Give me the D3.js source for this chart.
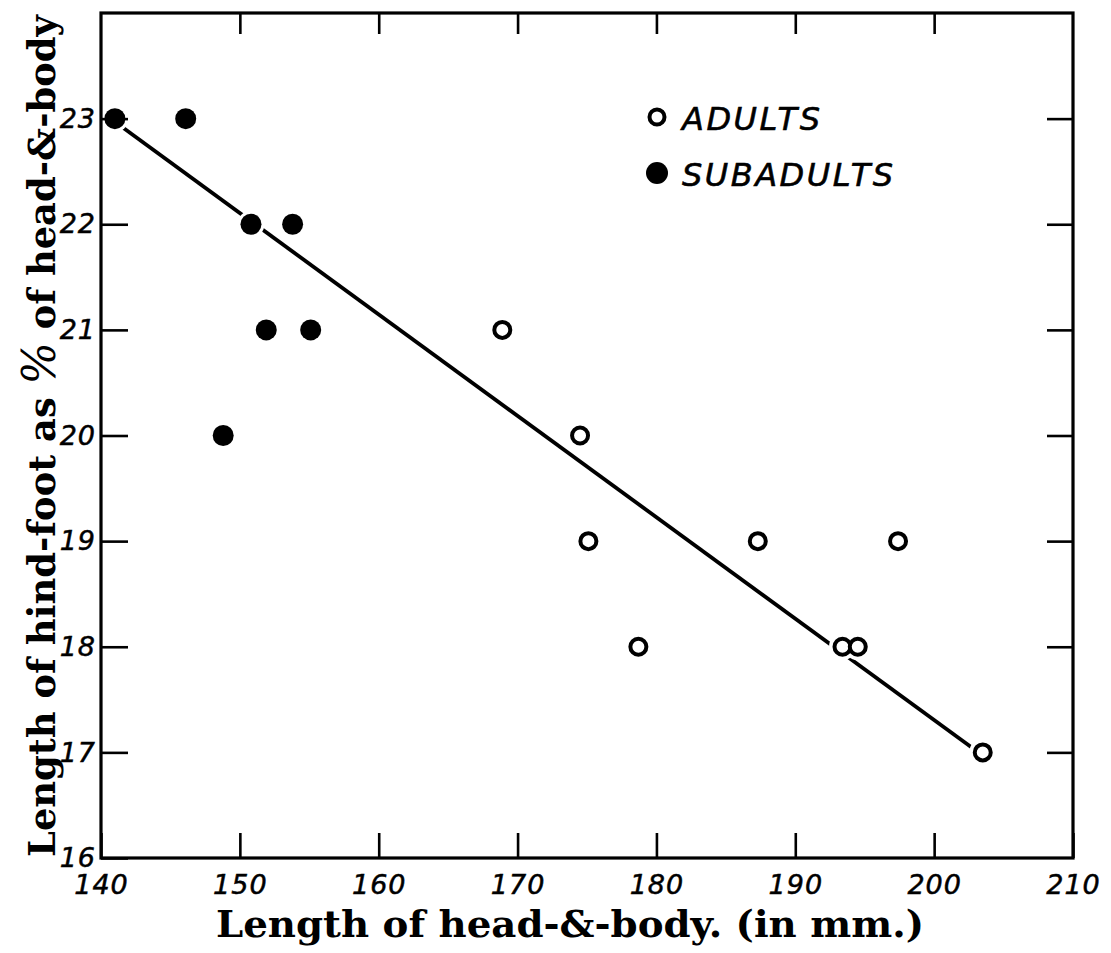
<!DOCTYPE html>
<html><head><meta charset="utf-8">
<script src="https://cdn.jsdelivr.net/npm/d3@7/dist/d3.min.js"></script>
<style>body{margin:0;background:#fff}</style>
</head><body>
<svg id="chart" width="1111" height="953"></svg>
<script>
// ---- data ----
const adultsX = [168.9, 174.5, 175.1, 178.7, 187.3, 193.4, 194.5, 197.4, 203.5];
const adultsY = [21, 20, 19, 18, 19, 18, 18, 19, 17];
const subadultsX = [141.0, 146.1, 150.8, 153.8, 151.9, 155.1, 148.8];
const subadultsY = [23, 23, 22, 22, 21, 21, 20];
const trendX = [141.0, 203.5];
const trendY = [22.97, 16.97];
const xTicks = [140, 150, 160, 170, 180, 190, 200, 210];
const yTicks = [16, 17, 18, 19, 20, 21, 22, 23];
const xInnerTicks = [150, 160, 170, 180, 190, 200];
const yInnerTicks = [17, 18, 19, 20, 21, 22, 23];
const legendLabels = ["ADULTS", "SUBADULTS"];
const xTitle = "Length of head-&-body. (in mm.)";
const yTitleParts = ["Length of hind-foot as ", "%", " of head-&-body"];

const svg = d3.select("#chart");
const x = d3.scaleLinear().domain([140, 210]).range([101, 1073]);
const y = d3.scaleLinear().domain([16, 24]).range([858, 13]);

const adults = adultsX.map((v, i) => ({x: v, y: adultsY[i]}));
const subadults = subadultsX.map((v, i) => ({x: v, y: subadultsY[i]}));
const trend = trendX.map((v, i) => ({x: v, y: trendY[i]}));

// trend line
svg.append("path").datum(trend)
  .attr("d", d3.line().x(d => x(d.x)).y(d => y(d.y)))
  .attr("fill", "none").attr("stroke", "#000").attr("stroke-width", 3.8);

// white halos that break the line near points
svg.append("g").selectAll("circle").data(adults.concat(subadults)).join("circle")
  .attr("cx", d => x(d.x)).attr("cy", d => y(d.y)).attr("r", 13.5).attr("fill", "#fff");

// frame
svg.append("rect")
  .attr("x", x(140)).attr("y", y(24))
  .attr("width", x(210) - x(140)).attr("height", y(16) - y(24))
  .attr("fill", "none").attr("stroke", "#000").attr("stroke-width", 3.2);

function styleAxis(g) {
  g.select(".domain").remove();
  g.selectAll(".tick line").attr("stroke", "#000").attr("stroke-width", 2.6);
  g.selectAll(".tick text")
    .attr("fill", "#000")
    .attr("stroke", "#000").attr("stroke-width", 0.5)
    .attr("font-family", "'DejaVu Sans', sans-serif")
    .attr("font-style", "italic")
    .attr("letter-spacing", 1)
    .attr("font-size", 27);
}

svg.append("g").attr("transform", `translate(0,${y(16)})`)
  .call(d3.axisBottom(x).tickValues(xTicks).tickSizeInner(-25).tickSizeOuter(0).tickPadding(17).tickFormat(d3.format("d")))
  .call(styleAxis);
svg.append("g").attr("transform", `translate(0,${y(24)})`)
  .call(d3.axisTop(x).tickValues(xInnerTicks).tickSizeInner(-21).tickSizeOuter(0).tickFormat(""))
  .call(styleAxis);
svg.append("g").attr("transform", `translate(${x(140)},0)`)
  .call(d3.axisLeft(y).tickValues(yTicks).tickSizeInner(-27).tickSizeOuter(0).tickPadding(5).tickFormat(d3.format("d")))
  .call(styleAxis);
svg.append("g").attr("transform", `translate(${x(210)},0)`)
  .call(d3.axisRight(y).tickValues(yInnerTicks).tickSizeInner(-26).tickSizeOuter(0).tickFormat(""))
  .call(styleAxis);

// points
svg.append("g").selectAll("circle").data(subadults).join("circle")
  .attr("cx", d => x(d.x)).attr("cy", d => y(d.y)).attr("r", 10.5).attr("fill", "#000");
svg.append("g").selectAll("circle").data(adults).join("circle")
  .attr("cx", d => x(d.x)).attr("cy", d => y(d.y)).attr("r", 8)
  .attr("fill", "#fff").attr("stroke", "#000").attr("stroke-width", 4);

// legend
const leg = svg.append("g").attr("transform", "translate(657,117)");
leg.append("circle").attr("cx", 0).attr("cy", 0).attr("r", 7.5)
  .attr("fill", "#fff").attr("stroke", "#000").attr("stroke-width", 4);
leg.append("circle").attr("cx", 0).attr("cy", 56).attr("r", 11).attr("fill", "#000");
leg.selectAll("text").data(legendLabels).join("text")
  .attr("x", 25).attr("y", (d, i) => 13 + i * 56)
  .attr("font-family", "'DejaVu Sans', sans-serif")
  .attr("font-style", "italic").attr("font-size", 32).attr("letter-spacing", 2.5)
  .attr("stroke", "#000").attr("stroke-width", 0.6)
  .attr("fill", "#000").text(d => d);

// axis titles
svg.append("text")
  .attr("x", 570).attr("y", 937).attr("text-anchor", "middle")
  .attr("font-family", "'DejaVu Serif', serif").attr("font-weight", "bold")
  .attr("font-size", 37).attr("fill", "#000")
  .attr("textLength", 708).attr("lengthAdjust", "spacingAndGlyphs")
  .text(xTitle);

const yt = svg.append("text")
  .attr("transform", "translate(55,436) rotate(-90)").attr("text-anchor", "middle")
  .attr("font-family", "'DejaVu Serif', serif").attr("font-weight", "bold")
  .attr("font-size", 38).attr("fill", "#000")
  .attr("textLength", 842).attr("lengthAdjust", "spacingAndGlyphs");
yt.selectAll("tspan").data(yTitleParts).join("tspan")
  .attr("font-size", (d, i) => i === 1 ? 46 : null)
  .attr("font-weight", (d, i) => i === 1 ? "normal" : null)
  .attr("font-style", (d, i) => i === 1 ? "italic" : null)
  .text(d => d);
</script>
</body></html>
